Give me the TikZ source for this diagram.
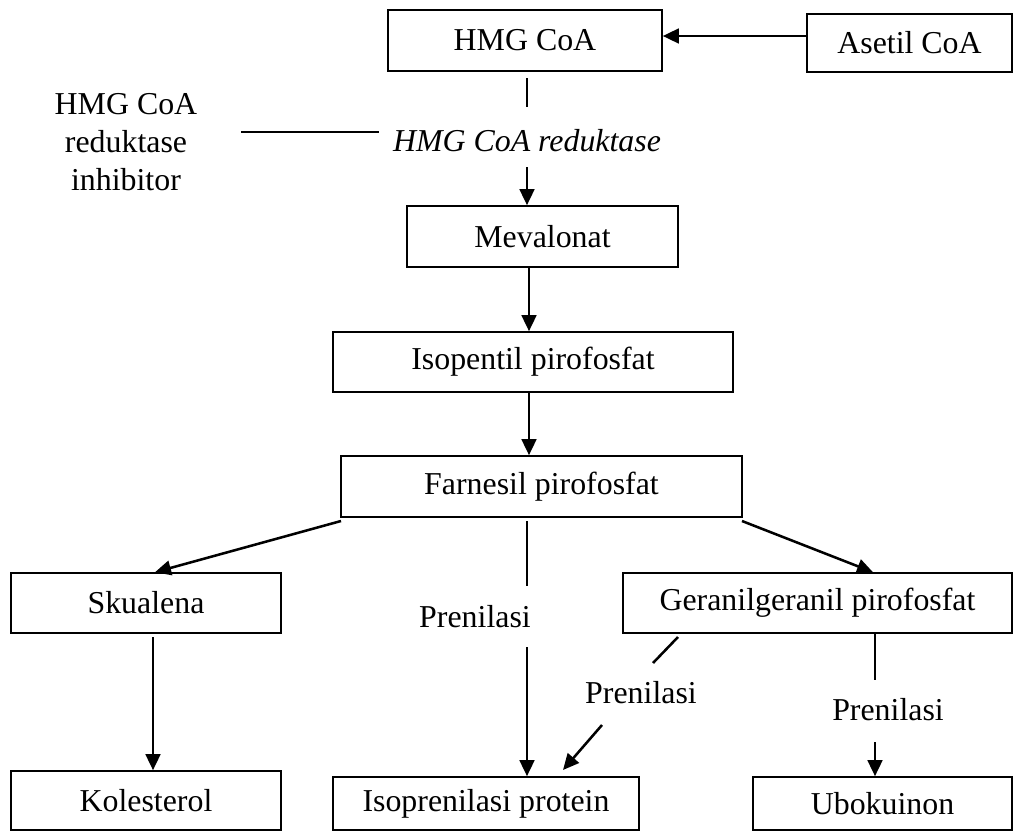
\documentclass[tikz,border=0pt]{standalone}
\usepackage{fontspec}
\setmainfont{Liberation Serif}
\usetikzlibrary{arrows.meta,calc}
\begin{document}
\begin{tikzpicture}[x=0.75pt,y=-0.75pt,
  every node/.style={font=\fontsize{23.9}{28.2}\selectfont, inner sep=0pt},
  box/.style={draw, line width=1.2pt, align=center},
  link/.style={line width=1.9pt},
  flow/.style={link, -{Triangle[length=12pt,width=11pt]}}]
\useasboundingbox (0,0) rectangle (1014,833);

% boxes
\node[box, minimum width=205.5pt, minimum height=45.75pt] (hmg) at (525,40.5) {HMG CoA};
\node[box, minimum width=153.75pt, minimum height=43.5pt] (asetil) at (909.5,43) {Asetil CoA};
\node[box, minimum width=203.25pt, minimum height=45.75pt] (meva) at (542.5,236.5) {Mevalonat};
\node[box, minimum width=300pt, minimum height=45pt] (ipp) at (533,362) {Isopentil pirofosfat};
\node[box, minimum width=300.75pt, minimum height=45.75pt] (fpp) at (541.5,486.5) {Farnesil pirofosfat};
\node[box, minimum width=202.5pt, minimum height=45pt] (skual) at (146,603) {Skualena};
\node[box, minimum width=202.5pt, minimum height=44.25pt] (kol) at (146,800.5) {Kolesterol};
\node[box, minimum width=229.5pt, minimum height=39.75pt] (iprot) at (486,803.5) {Isoprenilasi protein};
\node[box, minimum width=291.75pt, minimum height=45pt] (ggpp) at (817.5,603) {Geranilgeranil pirofosfat};
\node[box, minimum width=194.25pt, minimum height=39.75pt] (ubo) at (882.5,803.5) {Ubokuinon};

% free labels
\node (enz) at (527,141) {\itshape HMG CoA reduktase};
\node[align=center] (inhib) at (126,142) {HMG CoA\\reduktase\\inhibitor};
\node (pren1) at (475,617) {Prenilasi};
\node (pren2) at (641,693) {Prenilasi};
\node (pren3) at (888,710) {Prenilasi};

% connector end points
\coordinate (enzA) at (527,78);
\coordinate (enzB) at (527,107);
\coordinate (enzC) at (527,167);
\coordinate (inhA) at (241,132);
\coordinate (inhB) at (379,132);
\coordinate (fL) at (341,521);
\coordinate (fR) at (742,521);
\coordinate (p1A) at (527,521);
\coordinate (p1B) at (527,586);
\coordinate (p1C) at (527,647);
\coordinate (p2A) at (678,637);
\coordinate (p2B) at (653,663);
\coordinate (p2C) at (602,725);
\coordinate (p2D) at (563,770);
\coordinate (p3A) at (875,633);
\coordinate (p3B) at (875,680);
\coordinate (p3C) at (875,742);

% main chain
\draw[flow] (asetil.west |- 0,36) -- (hmg.east |- 0,36);
\draw[link] (enzA) -- (enzB);
\draw[flow] (enzC) -- (enzC |- meva.north);
\draw[link] (inhA) -- (inhB);
\draw[flow] (529,0 |- meva.south) -- (529,0 |- ipp.north);
\draw[flow] (529,0 |- ipp.south) -- (529,0 |- fpp.north);

% branches
\draw[flow] (fL) -- (155,0 |- skual.north);
\draw[flow] (153,0 |- 0,637) -- (153,0 |- kol.north);
\draw[flow] (fR) -- (873,0 |- ggpp.north);
\draw[link] (p1A) -- (p1B);
\draw[flow] (p1C) -- (p1C |- iprot.north);
\draw[link] (p2A) -- (p2B);
\draw[flow] (p2C) -- (p2D);
\draw[link] (p3A) -- (p3B);
\draw[flow] (p3C) -- (p3C |- ubo.north);
\end{tikzpicture}
\end{document}
